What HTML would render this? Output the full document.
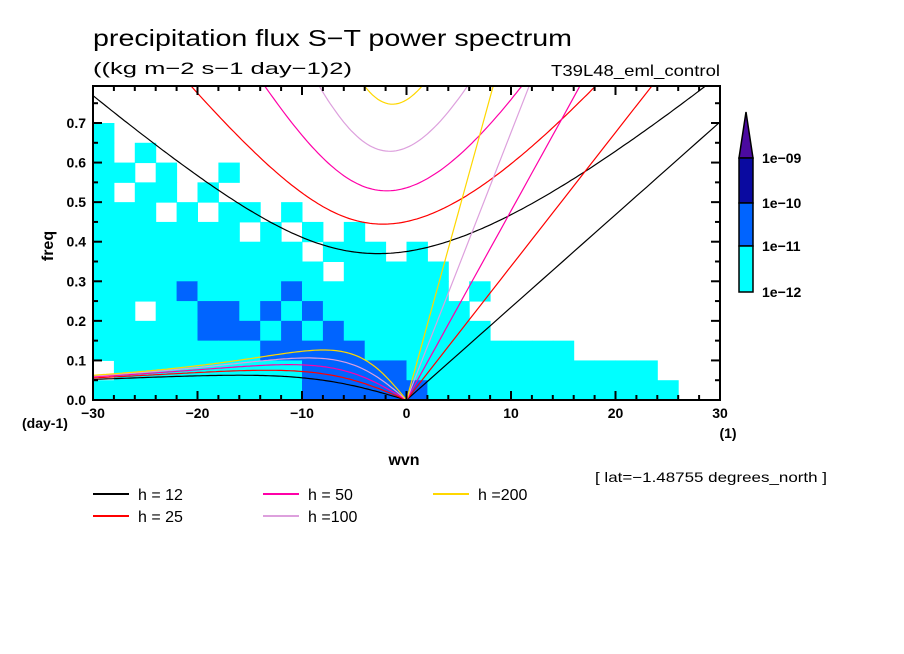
<!DOCTYPE html>
<html><head><meta charset="utf-8">
<style>
body{margin:0;background:#fff;}
svg{display:block;font-family:"Liberation Sans",sans-serif;}
.t{font-size:14px;font-weight:bold;fill:#000;}
</style></head>
<body>
<svg id="chart" width="904" height="654" viewBox="0 0 904 654">
<defs><clipPath id="pc"><rect x="93" y="86" width="627" height="314"/></clipPath></defs>
<text x="93" y="46" font-size="23" textLength="479" lengthAdjust="spacingAndGlyphs">precipitation flux S−T power spectrum</text>
<text x="93" y="74" font-size="17" textLength="259" lengthAdjust="spacingAndGlyphs">((kg m−2 s−1 day−1)2)</text>
<text x="720" y="76" font-size="16" text-anchor="end" textLength="169" lengthAdjust="spacingAndGlyphs">T39L48_eml_control</text>
<g id="heat" clip-path="url(#pc)"></g>
<g id="curves" clip-path="url(#pc)"></g>
<rect x="93" y="86" width="627" height="314" fill="none" stroke="#000" stroke-width="2"/>
<g id="ticks"></g>
<text x="53" y="246" font-size="16" font-weight="bold" transform="rotate(-90 53 246)" text-anchor="middle">freq</text>
<text x="404" y="465" font-size="16" font-weight="bold" text-anchor="middle">wvn</text>
<text x="22" y="428" class="t">(day-1)</text>
<text x="728" y="438" class="t" text-anchor="middle">(1)</text>
<text x="595" y="482" font-size="14" textLength="232" lengthAdjust="spacingAndGlyphs">[ lat=−1.48755 degrees_north ]</text>
<g id="legend"></g>
<g id="cbar"></g>
</svg>
<script>
const hValues=[12,25,50,100,200];
const hLabels=["h = 12","h = 25","h = 50","h =100","h =200"];
const hColors=["#000000","#ff0000","#ff00a8","#dda0dd","#ffd700"];
const xTicks=[-30,-20,-10,0,10,20,30];
const yTicks=[0.0,0.1,0.2,0.3,0.4,0.5,0.6,0.7];
const cbLabels=["1e-09","1e-10","1e-11","1e-12"];
const levelColors=["none","#00ffff","#0064ff","#0a0aa0"];
// power level grid, rows from top (freq 0.75-0.80) to bottom (0-0.05); cols wvn -30..30 step 2
const gridRows=[
"000000000000000000000000000000",
"000000000000000000000000000000",
"100000000000000000000000000000",
"101000000000000000000000000000",
"110100100000000000000000000000",
"101101000000000000000000000000",
"111010110100000000000000000000",
"111111101010100000000000000000",
"111111111101110100000000000000",
"111111111110111110000000000000",
"111121111211111110100000000000",
"110112212121111111000000000000",
"111112221212111111100000000000",
"111111112222211111111110000000",
"011111111122222111111111111000",
"111111111122222211111111111100"];
const ns="http://www.w3.org/2000/svg";
const X0=93,X1=720,Y0=400,YT=86;
const FMAX=(Y0-123)/0.7;
function sx(k){return X0+(k+30)/60*(X1-X0);}
function sy(f){return Y0-f*FMAX;}
function mk(tag,attrs,parent){const e=document.createElementNS(ns,tag);for(const a in attrs)e.setAttribute(a,attrs[a]);parent.appendChild(e);return e;}
const heat=document.getElementById('heat');
const nR=gridRows.length;
gridRows.forEach((row,r)=>{
  const fTop=(nR-r)*0.05,fBot=(nR-r-1)*0.05;
  for(let c=0;c<row.length;c++){
    const v=+row[c]; if(!v)continue;
    const k0=-30+2*c;
    const e=mk('rect',{x:sx(k0),y:sy(fTop),width:sx(k0+2)-sx(k0)+0.5,height:sy(fBot)-sy(fTop)+0.5,fill:levelColors[v]},heat);
    
    
  }
});
const g=9.81,a=6.371e6,beta=2.289e-11,toCpd=86400/(2*Math.PI);
function ig1(k,c){let w=Math.sqrt(c*c*k*k+3*beta*c)*1.1;for(let i=0;i<60;i++){const F=w*w*w-(c*c*k*k+3*beta*c)*w-beta*c*c*k;const d=3*w*w-(c*c*k*k+3*beta*c);w-=F/d;}return w;}
const cur=document.getElementById('curves');
hValues.forEach((h,i)=>{
  const c=Math.sqrt(g*h);
  let p1=[],p2=[],p3=[];
  for(let s=-30;s<=30.001;s+=0.25){const k=s/a;p1.push(sx(s).toFixed(1)+','+sy(ig1(k,c)*toCpd).toFixed(1));}
  for(let s=-30;s<=0.001;s+=0.25){const k=s/a;const w=-beta*k/(k*k+3*beta/c);p2.push(sx(s).toFixed(1)+','+sy(w*toCpd).toFixed(1));}
  for(let s=0;s<=30.001;s+=1){const k=s/a;p3.push(sx(s).toFixed(1)+','+sy(c*k*toCpd).toFixed(1));}
  [[p1,'ig1'],[p2,'rossby'],[p3,'kelvin']].forEach(([p,n])=>{
    const e=mk('polyline',{points:p.join(' '),fill:'none',stroke:hColors[i],'stroke-width':1.2},cur);
    
    
  });
});
const tk=document.getElementById('ticks');
for(let s=-30;s<=30;s+=2){const L=(s%10===0)?9:5;const x=sx(s);
  mk('line',{x1:x,y1:Y0,x2:x,y2:Y0-L,stroke:'#000','stroke-width':2},tk);
  mk('line',{x1:x,y1:YT,x2:x,y2:YT+L,stroke:'#000','stroke-width':2},tk);}
for(let j=0;j<=15;j++){const f=j*0.05;const L=(j%2===0)?9:5;const y=sy(f);
  mk('line',{x1:X0,y1:y,x2:X0+L,y2:y,stroke:'#000','stroke-width':2},tk);
  mk('line',{x1:X1,y1:y,x2:X1-L,y2:y,stroke:'#000','stroke-width':2},tk);}
xTicks.forEach(v=>{const e=mk('text',{x:sx(v),y:418,'text-anchor':'middle',class:'t'},tk);e.textContent=(v<0?'−':'')+Math.abs(v);
  
  });
yTicks.forEach(v=>{const e=mk('text',{x:86,y:sy(v)+5,'text-anchor':'end',class:'t'},tk);e.textContent=v.toFixed(1);
  
  });
const lg=document.getElementById('legend');
const lpos=[[93,494],[93,516],[263,494],[263,516],[433,494]];
hValues.forEach((h,i)=>{const [x,y]=lpos[i];
  const l=mk('line',{x1:x,y1:y,x2:x+36,y2:y,stroke:hColors[i],'stroke-width':2},lg);
  
  
  const t=mk('text',{x:x+45,y:y+6,'font-size':16},lg);t.textContent=hLabels[i];
  
  });
const cb=document.getElementById('cbar');
const cbY=[158,203,246,292];
mk('polygon',{points:'739,158 753,158 746,112',fill:'#4b0aa0',stroke:'#000','stroke-width':1.5},cb);
for(let j=0;j<3;j++){const e=mk('rect',{x:739,y:cbY[j],width:14,height:cbY[j+1]-cbY[j],fill:levelColors[3-j],stroke:'#000','stroke-width':1.5},cb);
  
  }
cbLabels.forEach((s,j)=>{const t=mk('text',{x:762,y:cbY[j]+5,'font-size':14,'font-weight':'bold'},cb);t.textContent=s.replace('-','−');
  
  });
</script>
</body></html>
